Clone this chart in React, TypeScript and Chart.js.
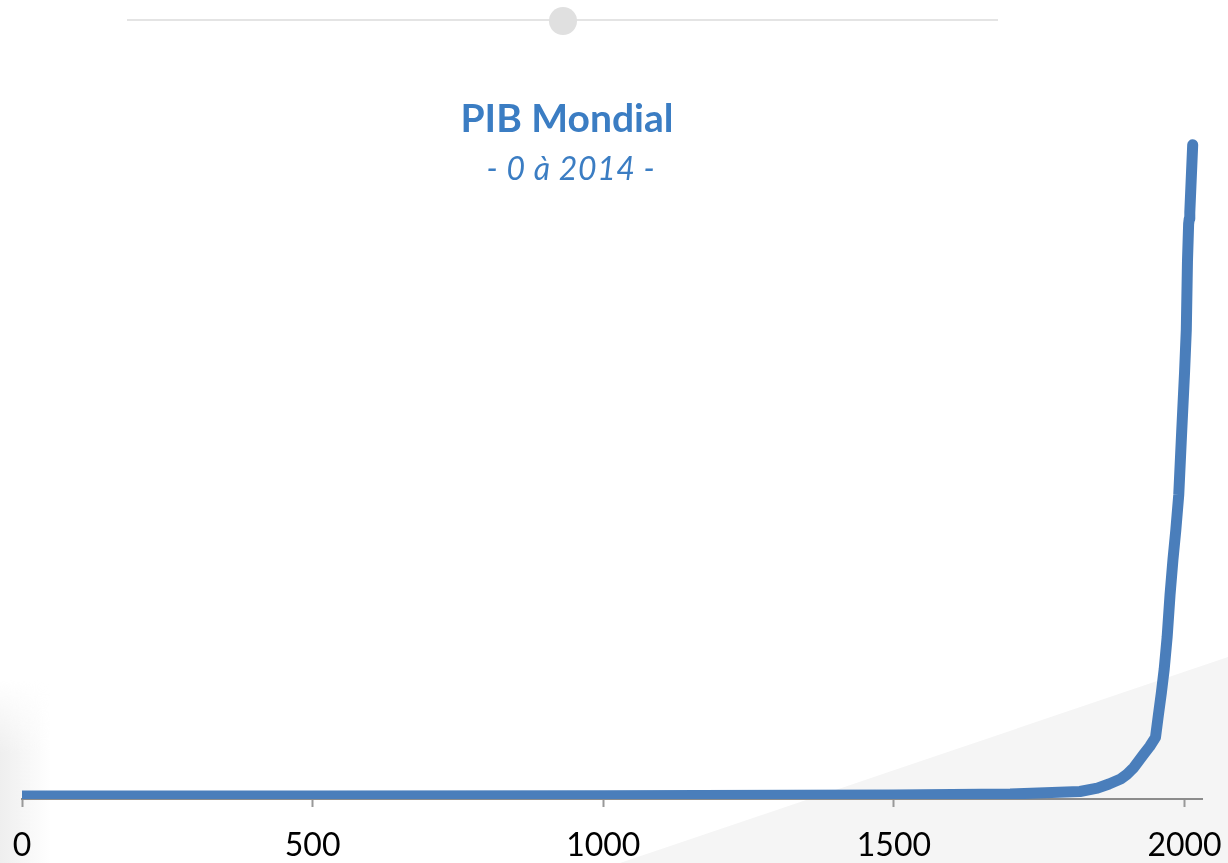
import React, { useEffect, useRef } from "react";
import { Chart, registerables } from "chart.js";

Chart.register(...registerables);

const titleText = "PIB Mondial";
const subtitleText = "- 0 à 2014 -";
const xTickValues = [0, 500, 1000, 1500, 2000];

const years = [0, 500, 1000, 1500, 1600, 1700, 1820, 1850, 1870, 1890, 1900, 1913, 1930, 1940, 1950, 1955, 1960, 1965, 1970, 1975, 1980, 1985, 1990, 1995, 2000, 2003, 2005, 2007, 2008, 2009, 2014];
const gdp = [0.36, 0.37, 0.4, 0.48, 0.54, 0.6, 0.9, 1.3, 1.8, 2.4, 2.9, 3.8, 5.4, 6.3, 7.4, 10.1, 12.7, 15.6, 19.4, 24.5, 28.7, 32.3, 36.5, 44.0, 51.2, 56.3, 64.5, 69.0, 69.6, 70.4, 78.5];

export default function App() {
  const canvasRef = useRef<HTMLCanvasElement | null>(null);

  useEffect(() => {
    const canvas = canvasRef.current;
    if (!canvas) return;
    const points = years.map((y, i) => ({ x: y, y: gdp[i] }));
    const chart = new Chart(canvas, {
      type: "line",
      data: {
        datasets: [
          {
            label: titleText,
            data: points,
            borderColor: "#4A7EBB",
            borderWidth: 11,
            borderCapStyle: "round",
            borderJoinStyle: "round",
            pointRadius: 0,
            tension: 0,
            fill: false,
          },
        ],
      },
      options: {
        animation: false,
        responsive: false,
        maintainAspectRatio: false,
        layout: { padding: { left: 22, right: 26, top: 99, bottom: 0 } },
        plugins: {
          legend: { display: false },
          tooltip: { enabled: false },
          title: { display: false },
        },
        scales: {
          x: {
            type: "linear",
            min: 0,
            max: 2030,
            afterBuildTicks: (scale: any) => {
              scale.ticks = xTickValues.map((v) => ({ value: v }));
            },
            afterFit: (scale: any) => {
              scale.height = 64;
              scale.paddingLeft = 0;
              scale.paddingRight = 0;
              scale.paddingTop = 0;
              scale.paddingBottom = 0;
            },
            ticks: {
              includeBounds: false,
              stepSize: 500,
              color: "#000000",
              font: { family: "Lato", size: 32 },
              padding: 19,
              maxRotation: 0,
              autoSkip: false,
              callback: (v: any) => String(v),
            },
            grid: {
              drawOnChartArea: false,
              drawTicks: true,
              tickLength: 8,
              tickColor: "#999999",
              tickWidth: 2,
            },
            border: { display: true, color: "#8c8c8c", width: 2 },
          },
          y: {
            display: false,
            min: 0,
            max: 84,
          },
        },
      },
    });
    return () => chart.destroy();
  }, []);

  return (
    <div style={{ position: "absolute", left: 0, top: 0, width: 1228, height: 863, background: "#ffffff", overflow: "hidden" }}>
      <div
        style={{
          position: "absolute",
          left: 0,
          top: 0,
          width: 1228,
          height: 863,
          background: "#f5f5f5",
          clipPath: "polygon(620px 863px, 1228px 657px, 1228px 863px)",
        }}
      />
      <div
        style={{
          position: "absolute",
          left: 0,
          top: 680,
          width: 50,
          height: 183,
          background: "linear-gradient(to right, #eeeeee, rgba(255,255,255,0))",
          WebkitMaskImage: "linear-gradient(to bottom, rgba(0,0,0,0), #000 40%)",
          maskImage: "linear-gradient(to bottom, rgba(0,0,0,0), #000 40%)",
        }}
      />
      <div style={{ position: "absolute", left: 127, top: 19, width: 871, height: 2, background: "#e4e4e4" }} />
      <div style={{ position: "absolute", left: 549, top: 7, width: 28, height: 28, borderRadius: "50%", background: "#e0e0e0" }} />
      <canvas ref={canvasRef} width={1228} height={863} style={{ position: "absolute", left: 0, top: 0, width: 1228, height: 863 }} />
      <div
        style={{
          position: "absolute",
          left: 367,
          top: 98,
          width: 400,
          textAlign: "center",
          fontFamily: "Lato",
          fontWeight: 700,
          fontSize: 39,
          lineHeight: "39px",
          color: "#3B7DC3",
          whiteSpace: "nowrap",
        }}
      >
        {titleText}
      </div>
      <div
        style={{
          position: "absolute",
          left: 371,
          top: 152,
          width: 400,
          textAlign: "center",
          fontFamily: "Lato",
          fontStyle: "italic",
          fontSize: 32,
          lineHeight: "32px",
          letterSpacing: "0.6px",
          color: "#3B7DC3",
          whiteSpace: "nowrap",
        }}
      >
        {subtitleText}
      </div>
    </div>
  );
}
